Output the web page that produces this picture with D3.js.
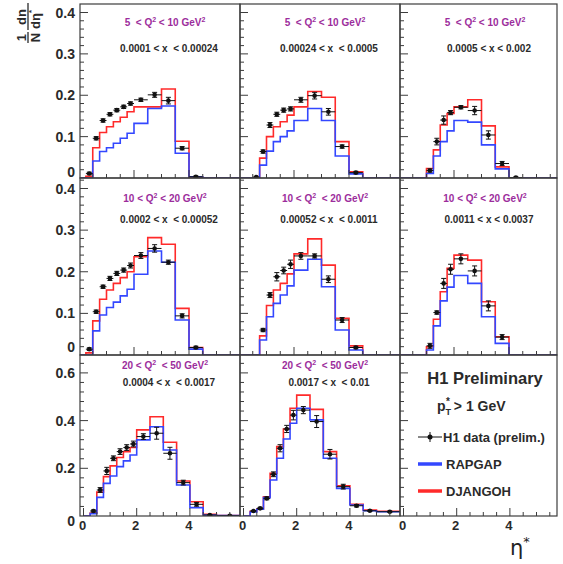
<!DOCTYPE html>
<html><head><meta charset="utf-8">
<script src="https://cdn.jsdelivr.net/npm/d3@7"></script>
<style>
body{margin:0;background:#fff;}
text{font-family:"Liberation Sans",Arial,sans-serif;}
</style>
</head><body>
<svg id="c" width="563" height="564"></svg>
<script>
// ---------------- DATA ----------------
const etaEdges = [0.25,0.5,0.75,1.0,1.25,1.5,1.75,2.0,2.5,3.0,3.5,4.0,4.5,5.0,6.0];

const q2Lo = ["5","10","20"];
const q2Hi = ["10","20","50"];
const q2Gap = [["  "," "],["  "," "],["  "," "]];
const q2GapByPanel = [[" ", " "],[" ", " "],[" "," "],[" "," "],[" ","  "],[" "," "],[" ","  "],[" ","  "]];
const xRangeLabels = [
  "0.0001 < x  < 0.00024","0.00024 < x  < 0.0005","0.0005 < x < 0.002",
  "0.0002 < x  < 0.00052","0.00052 < x  < 0.0011","0.0011 < x < 0.0037",
  "0.0004 < x  < 0.0017","0.0017 < x  < 0.01"];

// H1 data (prelim.)
const data1 = [0.011,0.096,0.139,0.154,0.164,0.172,0.180,0.189,0.201,0.187,0.072,0.003,null,null];
const data2 = [null,0.002,0.064,0.128,0.154,0.164,0.167,0.189,0.199,0.160,0.076,0.013,null,null];
const data3 = [null,null,null,0.018,0.088,0.140,0.158,0.171,0.163,0.104,0.035,0.001,null,null];
const data4 = [0.014,0.104,0.164,0.184,0.196,0.204,0.215,0.239,0.256,0.223,0.094,0.018,null,null];
const data5 = [null,null,0.060,0.144,0.188,0.203,0.218,0.238,0.238,0.182,0.084,0.018,null,null];
const data6 = [null,null,null,0.022,0.102,0.172,0.206,0.231,0.202,0.118,0.043,null,null,null];
const data7 = [0.021,0.109,0.189,0.242,0.270,0.287,0.302,0.333,0.347,0.263,0.140,0.049,0.004,0.001];
const data8 = [0.021,0.032,0.074,0.175,0.284,0.365,0.423,0.444,0.396,0.259,0.123,0.043,0.022,0.018];

const err1 = [0.003,0.004,0.004,0.004,0.004,0.004,0.004,0.004,0.006,0.008,0.004,0.002,0,0];
const err2 = [0,0.002,0.004,0.006,0.005,0.005,0.005,0.006,0.008,0.008,0.004,0.003,0,0];
const err3 = [0,0,0,0.004,0.008,0.010,0.005,0.004,0.010,0.010,0.005,0.002,0,0];
const err4 = [0.003,0.004,0.004,0.005,0.005,0.005,0.006,0.007,0.009,0.005,0.005,0.003,0,0];
const err5 = [0,0,0.004,0.006,0.010,0.008,0.010,0.008,0.005,0.008,0.006,0.003,0,0];
const err6 = [0,0,0,0.006,0.004,0.012,0.012,0.012,0.012,0.012,0.006,0,0,0];
const err7 = [0.004,0.010,0.015,0.010,0.012,0.012,0.012,0.012,0.025,0.025,0.010,0.008,0.002,0.002];
const err8 = [0.002,0.004,0.006,0.010,0.015,0.015,0.020,0.015,0.025,0.020,0.010,0.005,0.003,0.003];

// RAPGAP (blue)
const rap1 = [0,0.041,0.064,0.073,0.084,0.096,0.108,0.132,0.168,0.174,0.060,0.003,0,0];
const rap2 = [0,0,0.031,0.065,0.088,0.100,0.114,0.139,0.168,0.139,0.053,0.010,0,0];
const rap3 = [0,0,0,0.011,0.053,0.088,0.114,0.139,0.135,0.080,0.022,0,0,0];
const rap4 = [0,0.058,0.096,0.114,0.127,0.142,0.158,0.194,0.250,0.223,0.084,0.014,0,0];
const rap5 = [0,0,0.036,0.092,0.124,0.144,0.166,0.204,0.230,0.164,0.060,0.012,0,0];
const rap6 = [0,0,0,0.012,0.070,0.130,0.163,0.191,0.172,0.092,0.028,0,0,0];
const rap7 = [0.010,0.078,0.137,0.168,0.207,0.231,0.256,0.319,0.374,0.277,0.130,0.035,0.004,0.002];
const rap8 = [0.017,0.028,0.077,0.151,0.242,0.323,0.389,0.452,0.403,0.242,0.116,0.046,0.022,0.018];

// DJANGOH (red)
const dja1 = [0.004,0.073,0.110,0.124,0.136,0.147,0.160,0.172,0.172,0.215,0.089,0.002,0,0];
const dja2 = [0,0,0.048,0.100,0.124,0.136,0.152,0.172,0.209,0.195,0.088,0.015,0,0];
const dja3 = [0,0,0,0.023,0.068,0.128,0.156,0.172,0.189,0.126,0.027,0,0,0];
const dja4 = [0.005,0.082,0.134,0.156,0.172,0.186,0.200,0.236,0.282,0.266,0.112,0.018,0,0];
const dja5 = [0,0,0.046,0.119,0.156,0.172,0.195,0.243,0.279,0.216,0.088,0.022,0,0];
const dja6 = [0,0,0,0.020,0.086,0.152,0.208,0.240,0.228,0.128,0.044,0,0,0];
const dja7 = [0.012,0.100,0.165,0.210,0.245,0.270,0.287,0.361,0.416,0.309,0.147,0.060,0.007,0.002];
const dja8 = [0.020,0.030,0.081,0.179,0.291,0.365,0.452,0.507,0.447,0.270,0.127,0.049,0.025,0.020];

const yTickLabels = [[0,0.1,0.2,0.3,0.4],[0,0.1,0.2,0.3,0.4],[0,0.2,0.4,0.6]];
const xTickLabels = [0,2,4];
const legendLabels = ["H1 data (prelim.)","RAPGAP","DJANGOH"];

const panels = [
 {data:data1,err:err1,rap:rap1,dja:dja1},{data:data2,err:err2,rap:rap2,dja:dja2},{data:data3,err:err3,rap:rap3,dja:dja3},
 {data:data4,err:err4,rap:rap4,dja:dja4},{data:data5,err:err5,rap:rap5,dja:dja5},{data:data6,err:err6,rap:rap6,dja:dja6},
 {data:data7,err:err7,rap:rap7,dja:dja7},{data:data8,err:err8,rap:rap8,dja:dja8}];

// ---------------- LAYOUT ----------------
const colLeft = [80,240,400], colWidth = [160,160,157];
const rowTop = [4,178,355], rowBot = [178,355,516];
const yRefVal = [0.4,0.4,0.6], yRefPx = [12.5,188.5,372.9];
const yMinorStep = [0.02,0.02,0.04];
const xZeroOff = [-1,-1,3.5], xPxPerUnit = [27.5,27.5,26.6];
const zeroLabelShift = [-6,-8,5];
const textY = [[26,52],[202,223],[369,386]];

const RED = "#ff2a2a", BLUE = "#3347ff", PURPLE = "#9c2d9c";
const FRAME = "#3c3c3c", LBL = "#2a2a2a";

const svg = d3.select("#c");
svg.append("rect").attr("width",563).attr("height",564).attr("fill","#fff");
const defs = svg.append("defs");

for (let r=0;r<3;r++) for (let c=0;c<3;c++) {
  const idx = r*3+c;
  const x0 = colLeft[c], w = colWidth[c], y0 = rowTop[r], y1 = rowBot[r];
  const z = x0 + xZeroOff[r];
  const xs = d3.scaleLinear().domain([0,1]).range([z, z + xPxPerUnit[r]]);
  const ys = d3.scaleLinear().domain([0,yRefVal[r]]).range([y1, yRefPx[r]]);
  const g = svg.append("g");
  defs.append("clipPath").attr("id","clip"+idx).append("rect")
    .attr("x",x0).attr("y",y0).attr("width",w).attr("height",y1-y0);
  const content = g.append("g").attr("clip-path",`url(#clip${idx})`);

  const p = panels[idx];
  if (p) {
    const nb = etaEdges.length-1;
    const histPts = (vals) => {
      const pts = [[0,0]];
      for (let i=0;i<nb;i++) pts.push([etaEdges[i], vals[i]]);
      pts.push([etaEdges[nb], vals[nb-1]]);
      pts.push([etaEdges[nb], 0]);
      pts.push([7,0]);
      return pts;
    };
    const line = d3.line().x(d=>xs(d[0])).y(d=>ys(d[1])).curve(d3.curveStepAfter);
    content.append("path").attr("d",line(histPts(p.dja))).attr("fill","none")
      .attr("stroke",RED).attr("stroke-width",1.6);
    content.append("path").attr("d",line(histPts(p.rap))).attr("fill","none")
      .attr("stroke",BLUE).attr("stroke-width",1.6);
    const pts = [];
    for (let i=0;i<nb;i++) if (p.data[i]!==null) pts.push({lo:etaEdges[i],hi:etaEdges[i+1],c:(etaEdges[i]+etaEdges[i+1])/2,v:p.data[i],e:p.err[i]});
    const dg = content.append("g").attr("stroke","#111").attr("stroke-width",1);
    pts.forEach(d=>{
      const cx = xs(d.c), cy = ys(d.v);
      dg.append("line").attr("x1",xs(d.lo)).attr("x2",xs(d.hi)).attr("y1",cy).attr("y2",cy);
      if (d.e>0) {
        const yt = ys(d.v+d.e), yb = ys(Math.max(0,d.v-d.e));
        dg.append("line").attr("x1",cx).attr("x2",cx).attr("y1",yt).attr("y2",yb);
        dg.append("line").attr("x1",cx-2.5).attr("x2",cx+2.5).attr("y1",yt).attr("y2",yt);
        dg.append("line").attr("x1",cx-2.5).attr("x2",cx+2.5).attr("y1",yb).attr("y2",yb);
      }
      dg.append("circle").attr("cx",cx).attr("cy",cy).attr("r",2.3).attr("fill","#111").attr("stroke","none");
    });
    // labels
    const tx = x0 + 85;
    const qt = g.append("text").attr("x",tx).attr("y",textY[r][0]).attr("text-anchor","middle")
      .attr("font-size",10).attr("font-weight","bold").attr("fill",PURPLE).style("white-space","pre");
    qt.append("tspan").text(q2Lo[r] + (r===0?"  ":" ") + "<" + q2GapByPanel[idx][0] + "Q");
    qt.append("tspan").attr("dy",-4).attr("font-size",7).text("2");
    qt.append("tspan").attr("dy",4).text(q2GapByPanel[idx][1] + "< " + q2Hi[r] + " GeV");
    qt.append("tspan").attr("dy",-4).attr("font-size",7).text("2");
    g.append("text").attr("x",tx+4).attr("y",textY[r][1]).attr("text-anchor","middle")
      .attr("font-size",10).attr("font-weight","bold").attr("fill",LBL).style("white-space","pre")
      .text(xRangeLabels[idx]);
  }

  // ticks
  const tk = g.append("g").attr("stroke",FRAME).attr("stroke-width",1);
  const yMaxV = ys.invert(y0);
  d3.range(0, yMaxV+1e-9, yMinorStep[r]).forEach(v=>{
    const yy = ys(v); if (yy < y0+0.5 || yy > y1-0.5) return;
    const major = yTickLabels[r].some(t=>Math.abs(t-v)<1e-6);
    tk.append("line").attr("x1",x0).attr("x2",x0+(major?8:4)).attr("y1",yy).attr("y2",yy);
  });
  const xMaxV = xs.invert(x0+w);
  d3.range(0, xMaxV, 0.5).forEach(v=>{
    const xx = xs(v); if (xx < x0+1 || xx > x0+w-1) return;
    const major = xTickLabels.includes(v);
    tk.append("line").attr("x1",xx).attr("x2",xx).attr("y1",y1).attr("y2",y1-(major?8:4));
  });
  g.append("rect").attr("x",x0).attr("y",y0).attr("width",w).attr("height",y1-y0)
    .attr("fill","none").attr("stroke",FRAME).attr("stroke-width",1.2);

  // y tick labels
  if (c===0) {
    yTickLabels[r].forEach(v=>{
      let yy = ys(v) + 5;
      if (v===0) yy += zeroLabelShift[r];
      g.append("text").attr("x",75).attr("y",yy).attr("text-anchor","end")
        .attr("font-size",14).attr("font-weight","bold").attr("fill",LBL).text(String(v));
    });
  }
  if (r===2) {
    xTickLabels.forEach(v=>{
      g.append("text").attr("x",xs(v)-1).attr("y",530).attr("text-anchor","middle")
        .attr("font-size",13).attr("font-weight","bold").attr("fill",LBL).text(String(v));
    });
  }

  // legend panel
  if (!p) {
    g.append("text").attr("x",485).attr("y",384).attr("text-anchor","middle")
      .attr("font-size",16.5).attr("font-weight","bold").attr("fill",LBL).text("H1 Preliminary");
    const pt = g.append("text").attr("x",437).attr("y",411).attr("font-size",14)
      .attr("font-weight","bold").attr("fill",LBL).style("white-space","pre");
    pt.append("tspan").text("p");
    pt.append("tspan").attr("dy",4).attr("font-size",9).text("T");
    pt.append("tspan").attr("dy",-10).attr("dx",-5).attr("font-size",10).text("*");
    pt.append("tspan").attr("dy",6).text(" > 1 GeV");
    const ly = [437,464,491];
    const lg = g.append("g");
    lg.append("line").attr("x1",418).attr("x2",442).attr("y1",ly[0]).attr("y2",ly[0]).attr("stroke","#111");
    lg.append("line").attr("x1",430).attr("x2",430).attr("y1",ly[0]-5).attr("y2",ly[0]+5).attr("stroke","#111");
    lg.append("circle").attr("cx",430).attr("cy",ly[0]).attr("r",2.5).attr("fill","#111");
    lg.append("line").attr("x1",418).attr("x2",442).attr("y1",ly[1]).attr("y2",ly[1]).attr("stroke",BLUE).attr("stroke-width",3.5);
    lg.append("line").attr("x1",418).attr("x2",442).attr("y1",ly[2]).attr("y2",ly[2]).attr("stroke",RED).attr("stroke-width",3.5);
    legendLabels.forEach((t,i)=>{
      lg.append("text").attr("x",i===0?443:446).attr("y",ly[i]+4.5).attr("font-size",13)
        .attr("font-weight","bold").attr("fill",LBL).text(t);
    });
  }
}

// axis titles
const yt = svg.append("g").attr("transform","translate(28,43) rotate(-90)")
  .attr("font-weight","bold").attr("font-size",13).attr("fill",LBL);
yt.append("text").attr("x",5.5).attr("y",-2.5).attr("text-anchor","middle").text("1");
yt.append("text").attr("x",5.5).attr("y",12).attr("text-anchor","middle").text("N");
yt.append("line").attr("x1",0).attr("x2",11).attr("y1",0).attr("y2",0).attr("stroke",LBL).attr("stroke-width",1.3);
yt.append("text").attr("x",26).attr("y",-2.5).attr("text-anchor","middle").text("dn");
const dd = yt.append("text").attr("x",14).attr("y",12);
dd.append("tspan").text("d\u03b7");
dd.append("tspan").attr("dy",-6).attr("font-size",8).text("*");
yt.append("line").attr("x1",13).attr("x2",40).attr("y1",0).attr("y2",0).attr("stroke",LBL).attr("stroke-width",1.3);

const et = svg.append("text").attr("x",510).attr("y",555).attr("font-size",21)
  .attr("fill","#222").style("font-family","'DejaVu Sans',sans-serif");
et.append("tspan").text("\u03b7");
et.append("tspan").attr("dy",-9).attr("font-size",13).text("*");
</script>
</body></html>
